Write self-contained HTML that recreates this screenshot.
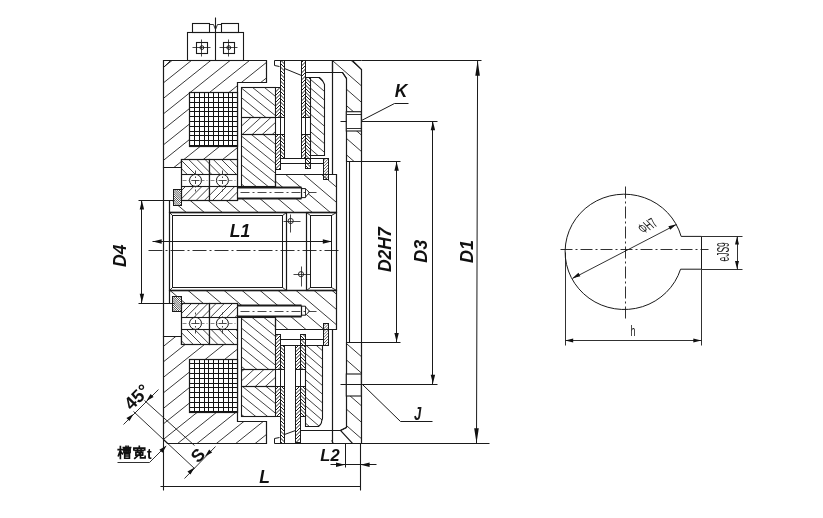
<!DOCTYPE html>
<html><head><meta charset="utf-8"><style>html,body{margin:0;padding:0;background:#fff;width:823px;height:518px;overflow:hidden}svg{display:block;will-change:transform}</style></head>
<body><svg width="823" height="518" viewBox="0 0 823 518"><defs><clipPath id="c1"><polygon points="163.5,60.4 266.8,60.4 266.8,82.4 237.7,82.4 237.7,159.5 181.4,159.5 181.4,167.3 163.5,167.3"/></clipPath><clipPath id="c2"><polygon points="241.4,87.8 275.5,87.8 275.5,117.2 241.4,117.2"/></clipPath><clipPath id="c3"><polygon points="241.4,117.2 275.5,117.2 275.5,134 241.4,134"/></clipPath><clipPath id="c4"><polygon points="241.4,134 275.5,134 275.5,186.5 241.4,186.5"/></clipPath><clipPath id="c5"><polygon points="275.5,87.8 280,87.8 280,117.2 275.5,117.2"/></clipPath><clipPath id="c6"><polygon points="275.5,134 280,134 280,169.7 275.5,169.7"/></clipPath><clipPath id="c7"><polygon points="280,60.4 284.6,60.4 284.6,117.2 280,117.2"/></clipPath><clipPath id="c8"><polygon points="280,134 284.6,134 284.6,158.8 280,158.8"/></clipPath><clipPath id="c9"><polygon points="301.3,60.4 305.9,60.4 305.9,117.2 301.3,117.2"/></clipPath><clipPath id="c10"><polygon points="301.3,134 305.9,134 305.9,158.8 301.3,158.8"/></clipPath><clipPath id="c11"><polygon points="305.9,77.4 310.6,77.4 310.6,117.2 305.9,117.2"/></clipPath><clipPath id="c12"><polygon points="305.9,134 310.6,134 310.6,168.3 305.9,168.3"/></clipPath><clipPath id="c13"><polygon points="310.6,77.4 318.5,77.4 319.67,77.63 320.8,78.31 321.83,79.42 322.74,80.91 323.49,82.73 324.04,84.81 324.38,87.06 324.5,89.4 324.5,155.9 310.6,155.9"/></clipPath><clipPath id="c14"><polygon points="323.6,158.8 328.7,158.8 328.7,179.9 323.6,179.9"/></clipPath><clipPath id="c15"><polygon points="169.5,212.8 169.5,200.3 237.3,200.3 237.3,186.5 275.8,186.5 275.8,174.8 336.2,174.8 336.2,212.8"/></clipPath><clipPath id="c16"><polygon points="173.2,189.5 181.4,189.5 181.4,205.4 173.2,205.4"/></clipPath><clipPath id="c17"><polygon points="181.4,159.5 209.3,159.5 209.3,174.6 181.4,174.6"/></clipPath><clipPath id="c18"><polygon points="181.4,186.4 209.3,186.4 209.3,200.3 181.4,200.3"/></clipPath><clipPath id="c19"><polygon points="209.3,159.5 237.3,159.5 237.3,174.6 209.3,174.6"/></clipPath><clipPath id="c20"><polygon points="209.3,186.4 237.3,186.4 237.3,200.3 209.3,200.3"/></clipPath><clipPath id="c21"><polygon points="332.4,60.5 352.4,60.5 361.3,69 361.3,161.5 346.3,161.5 346.3,78.3 342.8,72.5 332.4,72.5"/></clipPath><clipPath id="c22"><polygon points="163.5,439.9 167.6,443.4 266.8,443.4 266.8,421.4 237.7,421.4 237.7,344.3 181.4,344.3 181.4,336.5 163.5,336.5"/></clipPath><clipPath id="c23"><polygon points="241.4,386.6 275.5,386.6 275.5,416 241.4,416"/></clipPath><clipPath id="c24"><polygon points="241.4,369.8 275.5,369.8 275.5,386.6 241.4,386.6"/></clipPath><clipPath id="c25"><polygon points="241.4,317.3 275.5,317.3 275.5,369.8 241.4,369.8"/></clipPath><clipPath id="c26"><polygon points="275.5,416 280,416 280,386.6 275.5,386.6"/></clipPath><clipPath id="c27"><polygon points="275.5,369.8 280,369.8 280,334.1 275.5,334.1"/></clipPath><clipPath id="c28"><polygon points="280,443.4 284.6,443.4 284.6,386.6 280,386.6"/></clipPath><clipPath id="c29"><polygon points="280,369.8 284.6,369.8 284.6,345 280,345"/></clipPath><clipPath id="c30"><polygon points="295.9,442.6 300.5,442.6 300.5,386.6 295.9,386.6"/></clipPath><clipPath id="c31"><polygon points="295.9,369.8 300.5,369.8 300.5,345 295.9,345"/></clipPath><clipPath id="c32"><polygon points="300.5,416.3 305.5,416.3 305.5,386.6 300.5,386.6"/></clipPath><clipPath id="c33"><polygon points="300.5,369.8 305.5,369.8 305.5,334.6 300.5,334.6"/></clipPath><clipPath id="c34"><polygon points="305.5,426.4 316.9,426.4 318.07,426.17 319.2,425.49 320.23,424.38 321.14,422.89 321.89,421.07 322.44,418.99 322.78,416.74 322.9,414.4 322.9,345 305.5,345"/></clipPath><clipPath id="c35"><polygon points="323.6,323.9 328.7,323.9 328.7,345 323.6,345"/></clipPath><clipPath id="c36"><polygon points="169.5,290 169.5,303.5 237.3,303.5 237.3,317.3 275.8,317.3 275.8,329 336.2,329 336.2,290"/></clipPath><clipPath id="c37"><polygon points="172.8,296.5 181.4,296.5 181.4,311.4 172.8,311.4"/></clipPath><clipPath id="c38"><polygon points="181.4,344.3 209.3,344.3 209.3,329.2 181.4,329.2"/></clipPath><clipPath id="c39"><polygon points="181.4,317.4 209.3,317.4 209.3,303.5 181.4,303.5"/></clipPath><clipPath id="c40"><polygon points="209.3,344.3 237.3,344.3 237.3,329.2 209.3,329.2"/></clipPath><clipPath id="c41"><polygon points="209.3,317.4 237.3,317.4 237.3,303.5 209.3,303.5"/></clipPath><clipPath id="c42"><polygon points="352.3,443.4 361.3,443.4 361.3,342.3 346.3,342.3 346.3,427 340.7,430.9"/></clipPath></defs><rect width="823" height="518" fill="#fff"/><path d="M161.5 53.4L268.8 -32.44 M161.5 68.9L268.8 -16.94 M161.5 84.4L268.8 -1.44 M161.5 99.9L268.8 14.06 M161.5 115.4L268.8 29.56 M161.5 130.9L268.8 45.06 M161.5 146.4L268.8 60.56 M161.5 161.9L268.8 76.06 M161.5 177.4L268.8 91.56 M161.5 192.9L268.8 107.06 M161.5 208.4L268.8 122.56 M161.5 223.9L268.8 138.06 M161.5 239.4L268.8 153.56 M161.5 254.9L268.8 169.06" stroke="#222" stroke-width="0.9" fill="none" clip-path="url(#c1)"/><polygon points="163.5,60.5 266.5,60.5 266.5,82.5 237.5,82.5 237.5,159.5 181.5,159.5 181.5,167.5 163.5,167.5" fill="none" stroke="#1a1a1a" stroke-width="1.2" stroke-linejoin="miter"/><line x1="163.5" y1="67.5" x2="170.5" y2="60.5" stroke="#1a1a1a" stroke-width="0.9" /><rect x="189.7" y="92.7" width="48" height="53.8" fill="#fff"/><path d="M189.5 92.7V146.5M194.5 92.7V146.5M199.5 92.7V146.5M204.5 92.7V146.5M208.5 92.7V146.5M213.5 92.7V146.5M218.5 92.7V146.5M223.5 92.7V146.5M228.5 92.7V146.5M232.5 92.7V146.5M237.5 92.7V146.5M189.7 92.5H237.7M189.7 97.5H237.7M189.7 102.5H237.7M189.7 107.5H237.7M189.7 111.5H237.7M189.7 116.5H237.7M189.7 121.5H237.7M189.7 126.5H237.7M189.7 131.5H237.7M189.7 135.5H237.7M189.7 140.5H237.7M189.7 145.5H237.7" stroke="#111" stroke-width="1.0" fill="none"/><rect x="189.5" y="92.5" width="48" height="54" fill="none" stroke="#1a1a1a" stroke-width="1.2"/><path d="M239.4 57.61L277.5 88.47 M239.4 67.21L277.5 98.07 M239.4 76.81L277.5 107.67 M239.4 86.41L277.5 117.27 M239.4 96.01L277.5 126.87 M239.4 105.61L277.5 136.47 M239.4 115.21L277.5 146.07 M239.4 124.81L277.5 155.67" stroke="#222" stroke-width="0.85" fill="none" clip-path="url(#c2)"/><rect x="241.5" y="87.5" width="34" height="30" fill="none" stroke="#1a1a1a" stroke-width="1.1"/><path d="M239.4 118.85L277.5 84.17 M239.4 127.95L277.5 93.28 M239.4 137.05L277.5 102.38 M239.4 146.15L277.5 111.48 M239.4 155.25L277.5 120.58 M239.4 164.35L277.5 129.68 M239.4 173.45L277.5 138.78" stroke="#222" stroke-width="0.85" fill="none" clip-path="url(#c3)"/><rect x="241.5" y="117.5" width="34" height="17" fill="none" stroke="#1a1a1a" stroke-width="1.1"/><path d="M239.4 96.01L277.5 126.88 M239.4 105.61L277.5 136.47 M239.4 115.21L277.5 146.07 M239.4 124.81L277.5 155.67 M239.4 134.41L277.5 165.27 M239.4 144.01L277.5 174.88 M239.4 153.61L277.5 184.47 M239.4 163.21L277.5 194.07 M239.4 172.81L277.5 203.67 M239.4 182.41L277.5 213.27 M239.4 192.01L277.5 222.88" stroke="#222" stroke-width="0.85" fill="none" clip-path="url(#c4)"/><rect x="241.5" y="134.5" width="34" height="52" fill="none" stroke="#1a1a1a" stroke-width="1.1"/><line x1="237.5" y1="159.5" x2="237.5" y2="186.5" stroke="#1a1a1a" stroke-width="1.1" /><path d="M273.5 87L282 78.5 M273.5 90.5L282 82 M273.5 94L282 85.5 M273.5 97.5L282 89 M273.5 101L282 92.5 M273.5 104.5L282 96 M273.5 108L282 99.5 M273.5 111.5L282 103 M273.5 115L282 106.5 M273.5 118.5L282 110 M273.5 122L282 113.5 M273.5 125.5L282 117" stroke="#222" stroke-width="1.0" fill="none" clip-path="url(#c5)"/><path d="M273.5 136L282 127.5 M273.5 139.5L282 131 M273.5 143L282 134.5 M273.5 146.5L282 138 M273.5 150L282 141.5 M273.5 153.5L282 145 M273.5 157L282 148.5 M273.5 160.5L282 152 M273.5 164L282 155.5 M273.5 167.5L282 159 M273.5 171L282 162.5 M273.5 174.5L282 166 M273.5 178L282 169.5" stroke="#222" stroke-width="1.0" fill="none" clip-path="url(#c6)"/><rect x="275.5" y="87.5" width="5" height="82" fill="none" stroke="#1a1a1a" stroke-width="1.0"/><path d="M278 50.5L286.6 59.1 M278 54L286.6 62.6 M278 57.5L286.6 66.1 M278 61L286.6 69.6 M278 64.5L286.6 73.1 M278 68L286.6 76.6 M278 71.5L286.6 80.1 M278 75L286.6 83.6 M278 78.5L286.6 87.1 M278 82L286.6 90.6 M278 85.5L286.6 94.1 M278 89L286.6 97.6 M278 92.5L286.6 101.1 M278 96L286.6 104.6 M278 99.5L286.6 108.1 M278 103L286.6 111.6 M278 106.5L286.6 115.1 M278 110L286.6 118.6 M278 113.5L286.6 122.1 M278 117L286.6 125.6" stroke="#222" stroke-width="1.0" fill="none" clip-path="url(#c7)"/><path d="M278 124L286.6 132.6 M278 127.5L286.6 136.1 M278 131L286.6 139.6 M278 134.5L286.6 143.1 M278 138L286.6 146.6 M278 141.5L286.6 150.1 M278 145L286.6 153.6 M278 148.5L286.6 157.1 M278 152L286.6 160.6 M278 155.5L286.6 164.1 M278 159L286.6 167.6" stroke="#222" stroke-width="1.0" fill="none" clip-path="url(#c8)"/><rect x="280.5" y="60.5" width="4" height="98" fill="none" stroke="#1a1a1a" stroke-width="1.0"/><line x1="275.5" y1="117.5" x2="284.5" y2="117.5" stroke="#1a1a1a" stroke-width="1.0" /><line x1="275.5" y1="134.5" x2="284.5" y2="134.5" stroke="#1a1a1a" stroke-width="1.0" /><polyline points="274.5,60.5 274.5,65.5 279.5,66.5" fill="none" stroke="#1a1a1a" stroke-width="1.0" stroke-linejoin="miter"/><path d="M299.3 61.2L307.9 52.6 M299.3 64.7L307.9 56.1 M299.3 68.2L307.9 59.6 M299.3 71.7L307.9 63.1 M299.3 75.2L307.9 66.6 M299.3 78.7L307.9 70.1 M299.3 82.2L307.9 73.6 M299.3 85.7L307.9 77.1 M299.3 89.2L307.9 80.6 M299.3 92.7L307.9 84.1 M299.3 96.2L307.9 87.6 M299.3 99.7L307.9 91.1 M299.3 103.2L307.9 94.6 M299.3 106.7L307.9 98.1 M299.3 110.2L307.9 101.6 M299.3 113.7L307.9 105.1 M299.3 117.2L307.9 108.6 M299.3 120.7L307.9 112.1 M299.3 124.2L307.9 115.6" stroke="#222" stroke-width="1.0" fill="none" clip-path="url(#c9)"/><path d="M299.3 134.7L307.9 126.1 M299.3 138.2L307.9 129.6 M299.3 141.7L307.9 133.1 M299.3 145.2L307.9 136.6 M299.3 148.7L307.9 140.1 M299.3 152.2L307.9 143.6 M299.3 155.7L307.9 147.1 M299.3 159.2L307.9 150.6 M299.3 162.7L307.9 154.1 M299.3 166.2L307.9 157.6" stroke="#222" stroke-width="1.0" fill="none" clip-path="url(#c10)"/><rect x="301.5" y="60.5" width="4" height="98" fill="none" stroke="#1a1a1a" stroke-width="1.0"/><line x1="301.5" y1="117.5" x2="305.5" y2="117.5" stroke="#1a1a1a" stroke-width="1.0" /><line x1="301.5" y1="134.5" x2="305.5" y2="134.5" stroke="#1a1a1a" stroke-width="1.0" /><path d="M303.9 69.4L312.6 78.1 M303.9 72.9L312.6 81.6 M303.9 76.4L312.6 85.1 M303.9 79.9L312.6 88.6 M303.9 83.4L312.6 92.1 M303.9 86.9L312.6 95.6 M303.9 90.4L312.6 99.1 M303.9 93.9L312.6 102.6 M303.9 97.4L312.6 106.1 M303.9 100.9L312.6 109.6 M303.9 104.4L312.6 113.1 M303.9 107.9L312.6 116.6 M303.9 111.4L312.6 120.1 M303.9 114.9L312.6 123.6 M303.9 118.4L312.6 127.1" stroke="#222" stroke-width="1.0" fill="none" clip-path="url(#c11)"/><path d="M303.9 125.4L312.6 134.1 M303.9 128.9L312.6 137.6 M303.9 132.4L312.6 141.1 M303.9 135.9L312.6 144.6 M303.9 139.4L312.6 148.1 M303.9 142.9L312.6 151.6 M303.9 146.4L312.6 155.1 M303.9 149.9L312.6 158.6 M303.9 153.4L312.6 162.1 M303.9 156.9L312.6 165.6 M303.9 160.4L312.6 169.1 M303.9 163.9L312.6 172.6 M303.9 167.4L312.6 176.1" stroke="#222" stroke-width="1.0" fill="none" clip-path="url(#c12)"/><rect x="305.5" y="77.5" width="5" height="91" fill="none" stroke="#1a1a1a" stroke-width="1.0"/><line x1="305.5" y1="117.5" x2="310.5" y2="117.5" stroke="#1a1a1a" stroke-width="1.0" /><line x1="305.5" y1="134.5" x2="310.5" y2="134.5" stroke="#1a1a1a" stroke-width="1.0" /><path d="M308.6 60.4L326.5 75.79 M308.6 69.1L326.5 84.49 M308.6 77.8L326.5 93.19 M308.6 86.5L326.5 101.89 M308.6 95.2L326.5 110.59 M308.6 103.9L326.5 119.29 M308.6 112.6L326.5 127.99 M308.6 121.3L326.5 136.69 M308.6 130L326.5 145.39 M308.6 138.7L326.5 154.09 M308.6 147.4L326.5 162.79 M308.6 156.1L326.5 171.49" stroke="#222" stroke-width="0.85" fill="none" clip-path="url(#c13)"/><polygon points="310.5,77.5 318.5,77.5 319.5,77.5 320.5,78.5 321.5,79.5 322.5,80.5 323.5,82.5 324.5,84.5 324.5,87.5 324.5,89.5 324.5,155.5 310.5,155.5" fill="none" stroke="#1a1a1a" stroke-width="1.1" stroke-linejoin="miter"/><line x1="284.5" y1="68.5" x2="301.5" y2="75.5" stroke="#1a1a1a" stroke-width="1.0" /><polyline points="305.5,72.5 342.5,72.5 346.5,78.5" fill="none" stroke="#1a1a1a" stroke-width="1.1" stroke-linejoin="miter"/><line x1="274.5" y1="60.5" x2="361.5" y2="60.5" stroke="#1a1a1a" stroke-width="1.2" /><line x1="284.5" y1="158.5" x2="328.5" y2="158.5" stroke="#1a1a1a" stroke-width="1.0" /><line x1="280.5" y1="163.5" x2="323.5" y2="163.5" stroke="#1a1a1a" stroke-width="1.0" /><path d="M321.6 159.8L330.7 150.7 M321.6 162.7L330.7 153.6 M321.6 165.6L330.7 156.5 M321.6 168.5L330.7 159.4 M321.6 171.4L330.7 162.3 M321.6 174.3L330.7 165.2 M321.6 177.2L330.7 168.1 M321.6 180.1L330.7 171 M321.6 183L330.7 173.9 M321.6 185.9L330.7 176.8 M321.6 188.8L330.7 179.7" stroke="#222" stroke-width="0.7" fill="none" clip-path="url(#c14)"/><rect x="323.5" y="158.5" width="5" height="21" fill="none" stroke="#1a1a1a" stroke-width="1.0"/><line x1="332.5" y1="60.5" x2="332.5" y2="174.5" stroke="#1a1a1a" stroke-width="1.2" /><path d="M167.5 28.17L338.2 173.27 M167.5 43.47L338.2 188.57 M167.5 58.77L338.2 203.87 M167.5 74.07L338.2 219.17 M167.5 89.37L338.2 234.47 M167.5 104.67L338.2 249.77 M167.5 119.97L338.2 265.07 M167.5 135.27L338.2 280.37 M167.5 150.57L338.2 295.67 M167.5 165.87L338.2 310.97 M167.5 181.17L338.2 326.27 M167.5 196.47L338.2 341.57 M167.5 211.77L338.2 356.87" stroke="#222" stroke-width="0.9" fill="none" clip-path="url(#c15)"/><polygon points="169.5,212.5 169.5,200.5 237.5,200.5 237.5,186.5 275.5,186.5 275.5,174.5 336.5,174.5 336.5,212.5" fill="none" stroke="#1a1a1a" stroke-width="1.2" stroke-linejoin="miter"/><rect x="237.3" y="187.5" width="64.2" height="11" fill="#fff"/><polygon points="301.5,188.6 305.4,188.6 306.4,189.6 309.5,192.6 306.4,195.9 305.4,197.6 301.5,197.6" fill="#fff" stroke="#1a1a1a" stroke-width="1"/><line x1="305.5" y1="188.5" x2="305.5" y2="197.5" stroke="#1a1a1a" stroke-width="0.9" /><line x1="237.5" y1="187.5" x2="301.5" y2="187.5" stroke="#1a1a1a" stroke-width="2.0" /><line x1="237.5" y1="198.5" x2="301.5" y2="198.5" stroke="#1a1a1a" stroke-width="2.0" /><line x1="301.5" y1="187.5" x2="301.5" y2="198.5" stroke="#1a1a1a" stroke-width="1.2" /><line x1="240.5" y1="192.5" x2="316.5" y2="192.5" stroke="#1a1a1a" stroke-width="0.8" stroke-dasharray="9 3 2 3"/><rect x="173.2" y="189.5" width="8.2" height="15.9" fill="#fff"/><path d="M171.2 177.8L183.4 190 M171.2 180L183.4 192.2 M171.2 182.2L183.4 194.4 M171.2 184.4L183.4 196.6 M171.2 186.6L183.4 198.8 M171.2 188.8L183.4 201 M171.2 191L183.4 203.2 M171.2 193.2L183.4 205.4 M171.2 195.4L183.4 207.6 M171.2 197.6L183.4 209.8 M171.2 199.8L183.4 212 M171.2 202L183.4 214.2 M171.2 204.2L183.4 216.4" stroke="#222" stroke-width="0.8" fill="none" clip-path="url(#c16)"/><rect x="173.5" y="189.5" width="8" height="16" fill="none" stroke="#1a1a1a" stroke-width="1.0"/><rect x="181.4" y="159.5" width="27.9" height="40.8" fill="#fff"/><path d="M179.4 125.6L211.3 157.5 M179.4 133.8L211.3 165.7 M179.4 142L211.3 173.9 M179.4 150.2L211.3 182.1 M179.4 158.4L211.3 190.3 M179.4 166.6L211.3 198.5 M179.4 174.8L211.3 206.7" stroke="#222" stroke-width="0.85" fill="none" clip-path="url(#c17)"/><path d="M179.4 184.4L211.3 152.5 M179.4 192.6L211.3 160.7 M179.4 200.8L211.3 168.9 M179.4 209L211.3 177.1 M179.4 217.2L211.3 185.3 M179.4 225.4L211.3 193.5 M179.4 233.6L211.3 201.7" stroke="#222" stroke-width="0.85" fill="none" clip-path="url(#c18)"/><rect x="181.5" y="159.5" width="28" height="41" fill="none" stroke="#1a1a1a" stroke-width="1.2"/><line x1="181.5" y1="174.5" x2="209.5" y2="174.5" stroke="#1a1a1a" stroke-width="1.1" /><line x1="181.5" y1="186.5" x2="209.5" y2="186.5" stroke="#1a1a1a" stroke-width="1.1" /><circle cx="195.5" cy="180.4" r="6" fill="#fff" stroke="#1a1a1a" stroke-width="1"/><line x1="195.5" y1="170.5" x2="195.5" y2="191.5" stroke="#1a1a1a" stroke-width="0.8" stroke-dasharray="4 2 1.5 2"/><line x1="191.5" y1="180.5" x2="199.5" y2="180.5" stroke="#1a1a1a" stroke-width="0.8" /><line x1="182.5" y1="180.5" x2="208.5" y2="180.5" stroke="#555" stroke-width="0.7" stroke-dasharray="4 2 1 2"/><rect x="209.3" y="159.5" width="28" height="40.8" fill="#fff"/><path d="M207.3 128.9L239.3 160.9 M207.3 137.1L239.3 169.1 M207.3 145.3L239.3 177.3 M207.3 153.5L239.3 185.5 M207.3 161.7L239.3 193.7 M207.3 169.9L239.3 201.9 M207.3 178.1L239.3 210.1" stroke="#222" stroke-width="0.85" fill="none" clip-path="url(#c19)"/><path d="M207.3 181.1L239.3 149.1 M207.3 189.3L239.3 157.3 M207.3 197.5L239.3 165.5 M207.3 205.7L239.3 173.7 M207.3 213.9L239.3 181.9 M207.3 222.1L239.3 190.1 M207.3 230.3L239.3 198.3 M207.3 238.5L239.3 206.5" stroke="#222" stroke-width="0.85" fill="none" clip-path="url(#c20)"/><rect x="209.5" y="159.5" width="28" height="41" fill="none" stroke="#1a1a1a" stroke-width="1.2"/><line x1="209.5" y1="174.5" x2="237.5" y2="174.5" stroke="#1a1a1a" stroke-width="1.1" /><line x1="209.5" y1="186.5" x2="237.5" y2="186.5" stroke="#1a1a1a" stroke-width="1.1" /><circle cx="222.4" cy="180.4" r="6" fill="#fff" stroke="#1a1a1a" stroke-width="1"/><line x1="222.5" y1="170.5" x2="222.5" y2="191.5" stroke="#1a1a1a" stroke-width="0.8" stroke-dasharray="4 2 1.5 2"/><line x1="218.5" y1="180.5" x2="226.5" y2="180.5" stroke="#1a1a1a" stroke-width="0.8" /><line x1="210.5" y1="180.5" x2="236.5" y2="180.5" stroke="#555" stroke-width="0.7" stroke-dasharray="4 2 1 2"/><line x1="169.5" y1="212.5" x2="336.5" y2="212.5" stroke="#1a1a1a" stroke-width="1.6" /><path d="M330.4 25.95L363.3 54.74 M330.4 42.35L363.3 71.14 M330.4 58.75L363.3 87.54 M330.4 75.15L363.3 103.94 M330.4 91.55L363.3 120.34 M330.4 107.95L363.3 136.74 M330.4 124.35L363.3 153.14 M330.4 140.75L363.3 169.54 M330.4 157.15L363.3 185.94 M330.4 173.55L363.3 202.34" stroke="#222" stroke-width="0.9" fill="none" clip-path="url(#c21)"/><polygon points="332.5,60.5 352.5,60.5 361.5,69.5 361.5,161.5 346.5,161.5 346.5,78.5 342.5,72.5 332.5,72.5" fill="none" stroke="#1a1a1a" stroke-width="1.2" stroke-linejoin="miter"/><rect x="346.3" y="111.7" width="15" height="19.3" fill="#fff" stroke="#1a1a1a" stroke-width="1.1"/><line x1="346.5" y1="114.5" x2="361.5" y2="114.5" stroke="#1a1a1a" stroke-width="0.9" /><line x1="346.5" y1="128.5" x2="361.5" y2="128.5" stroke="#1a1a1a" stroke-width="0.9" /><line x1="361.5" y1="60.5" x2="481.5" y2="60.5" stroke="#1a1a1a" stroke-width="1.0" /><path d="M161.5 332.4L268.8 246.56 M161.5 347.9L268.8 262.06 M161.5 363.4L268.8 277.56 M161.5 378.9L268.8 293.06 M161.5 394.4L268.8 308.56 M161.5 409.9L268.8 324.06 M161.5 425.4L268.8 339.56 M161.5 440.9L268.8 355.06 M161.5 456.4L268.8 370.56 M161.5 471.9L268.8 386.06 M161.5 487.4L268.8 401.56 M161.5 502.9L268.8 417.06 M161.5 518.4L268.8 432.56 M161.5 533.9L268.8 448.06" stroke="#222" stroke-width="0.9" fill="none" clip-path="url(#c22)"/><polygon points="163.5,439.5 167.5,443.5 266.5,443.5 266.5,421.5 237.5,421.5 237.5,344.5 181.5,344.5 181.5,336.5 163.5,336.5" fill="none" stroke="#1a1a1a" stroke-width="1.2" stroke-linejoin="miter"/><rect x="189.7" y="359" width="48" height="53.4" fill="#fff"/><path d="M189.5 359V412.4M194.5 359V412.4M199.5 359V412.4M204.5 359V412.4M208.5 359V412.4M213.5 359V412.4M218.5 359V412.4M223.5 359V412.4M228.5 359V412.4M232.5 359V412.4M237.5 359V412.4M189.7 359.5H237.7M189.7 363.5H237.7M189.7 368.5H237.7M189.7 373.5H237.7M189.7 378.5H237.7M189.7 383.5H237.7M189.7 387.5H237.7M189.7 392.5H237.7M189.7 397.5H237.7M189.7 402.5H237.7M189.7 407.5H237.7M189.7 411.5H237.7" stroke="#111" stroke-width="1.0" fill="none"/><rect x="189.5" y="359.5" width="48" height="53" fill="none" stroke="#1a1a1a" stroke-width="1.2"/><path d="M239.4 355.21L277.5 386.08 M239.4 364.81L277.5 395.68 M239.4 374.41L277.5 405.27 M239.4 384.01L277.5 414.88 M239.4 393.61L277.5 424.48 M239.4 403.21L277.5 434.07 M239.4 412.81L277.5 443.67 M239.4 422.41L277.5 453.27" stroke="#222" stroke-width="0.85" fill="none" clip-path="url(#c23)"/><rect x="241.5" y="386.5" width="34" height="30" fill="none" stroke="#1a1a1a" stroke-width="1.1"/><path d="M239.4 364.55L277.5 329.88 M239.4 373.65L277.5 338.98 M239.4 382.75L277.5 348.08 M239.4 391.85L277.5 357.18 M239.4 400.95L277.5 366.28 M239.4 410.05L277.5 375.38 M239.4 419.15L277.5 384.48 M239.4 428.25L277.5 393.58" stroke="#222" stroke-width="0.85" fill="none" clip-path="url(#c24)"/><rect x="241.5" y="369.5" width="34" height="17" fill="none" stroke="#1a1a1a" stroke-width="1.1"/><path d="M239.4 288.01L277.5 318.88 M239.4 297.61L277.5 328.48 M239.4 307.21L277.5 338.07 M239.4 316.81L277.5 347.67 M239.4 326.41L277.5 357.27 M239.4 336.01L277.5 366.88 M239.4 345.61L277.5 376.47 M239.4 355.21L277.5 386.07 M239.4 364.81L277.5 395.67 M239.4 374.41L277.5 405.27" stroke="#222" stroke-width="0.85" fill="none" clip-path="url(#c25)"/><rect x="241.5" y="317.5" width="34" height="52" fill="none" stroke="#1a1a1a" stroke-width="1.1"/><line x1="237.5" y1="344.5" x2="237.5" y2="317.5" stroke="#1a1a1a" stroke-width="1.1" /><path d="M273.5 388L282 379.5 M273.5 391.5L282 383 M273.5 395L282 386.5 M273.5 398.5L282 390 M273.5 402L282 393.5 M273.5 405.5L282 397 M273.5 409L282 400.5 M273.5 412.5L282 404 M273.5 416L282 407.5 M273.5 419.5L282 411 M273.5 423L282 414.5" stroke="#222" stroke-width="1.0" fill="none" clip-path="url(#c26)"/><path d="M273.5 335.5L282 327 M273.5 339L282 330.5 M273.5 342.5L282 334 M273.5 346L282 337.5 M273.5 349.5L282 341 M273.5 353L282 344.5 M273.5 356.5L282 348 M273.5 360L282 351.5 M273.5 363.5L282 355 M273.5 367L282 358.5 M273.5 370.5L282 362 M273.5 374L282 365.5 M273.5 377.5L282 369" stroke="#222" stroke-width="1.0" fill="none" clip-path="url(#c27)"/><rect x="275.5" y="334.5" width="5" height="82" fill="none" stroke="#1a1a1a" stroke-width="1.0"/><path d="M278 379.5L286.6 388.1 M278 383L286.6 391.6 M278 386.5L286.6 395.1 M278 390L286.6 398.6 M278 393.5L286.6 402.1 M278 397L286.6 405.6 M278 400.5L286.6 409.1 M278 404L286.6 412.6 M278 407.5L286.6 416.1 M278 411L286.6 419.6 M278 414.5L286.6 423.1 M278 418L286.6 426.6 M278 421.5L286.6 430.1 M278 425L286.6 433.6 M278 428.5L286.6 437.1 M278 432L286.6 440.6 M278 435.5L286.6 444.1 M278 439L286.6 447.6 M278 442.5L286.6 451.1" stroke="#222" stroke-width="1.0" fill="none" clip-path="url(#c28)"/><path d="M278 337.5L286.6 346.1 M278 341L286.6 349.6 M278 344.5L286.6 353.1 M278 348L286.6 356.6 M278 351.5L286.6 360.1 M278 355L286.6 363.6 M278 358.5L286.6 367.1 M278 362L286.6 370.6 M278 365.5L286.6 374.1 M278 369L286.6 377.6" stroke="#222" stroke-width="1.0" fill="none" clip-path="url(#c29)"/><rect x="280.5" y="345.5" width="4" height="98" fill="none" stroke="#1a1a1a" stroke-width="1.0"/><line x1="275.5" y1="386.5" x2="284.5" y2="386.5" stroke="#1a1a1a" stroke-width="1.0" /><line x1="275.5" y1="369.5" x2="284.5" y2="369.5" stroke="#1a1a1a" stroke-width="1.0" /><polyline points="274.5,443.5 274.5,438.5 279.5,437.5" fill="none" stroke="#1a1a1a" stroke-width="1.0" stroke-linejoin="miter"/><path d="M293.9 388.6L302.5 380 M293.9 392.1L302.5 383.5 M293.9 395.6L302.5 387 M293.9 399.1L302.5 390.5 M293.9 402.6L302.5 394 M293.9 406.1L302.5 397.5 M293.9 409.6L302.5 401 M293.9 413.1L302.5 404.5 M293.9 416.6L302.5 408 M293.9 420.1L302.5 411.5 M293.9 423.6L302.5 415 M293.9 427.1L302.5 418.5 M293.9 430.6L302.5 422 M293.9 434.1L302.5 425.5 M293.9 437.6L302.5 429 M293.9 441.1L302.5 432.5 M293.9 444.6L302.5 436 M293.9 448.1L302.5 439.5 M293.9 451.6L302.5 443" stroke="#222" stroke-width="1.0" fill="none" clip-path="url(#c30)"/><path d="M293.9 346.6L302.5 338 M293.9 350.1L302.5 341.5 M293.9 353.6L302.5 345 M293.9 357.1L302.5 348.5 M293.9 360.6L302.5 352 M293.9 364.1L302.5 355.5 M293.9 367.6L302.5 359 M293.9 371.1L302.5 362.5 M293.9 374.6L302.5 366 M293.9 378.1L302.5 369.5" stroke="#222" stroke-width="1.0" fill="none" clip-path="url(#c31)"/><rect x="295.5" y="345.5" width="5" height="97" fill="none" stroke="#1a1a1a" stroke-width="1.0"/><line x1="295.5" y1="386.5" x2="300.5" y2="386.5" stroke="#1a1a1a" stroke-width="1.0" /><line x1="295.5" y1="369.5" x2="300.5" y2="369.5" stroke="#1a1a1a" stroke-width="1.0" /><path d="M298.5 379L307.5 388 M298.5 382.5L307.5 391.5 M298.5 386L307.5 395 M298.5 389.5L307.5 398.5 M298.5 393L307.5 402 M298.5 396.5L307.5 405.5 M298.5 400L307.5 409 M298.5 403.5L307.5 412.5 M298.5 407L307.5 416 M298.5 410.5L307.5 419.5 M298.5 414L307.5 423 M298.5 417.5L307.5 426.5" stroke="#222" stroke-width="1.0" fill="none" clip-path="url(#c32)"/><path d="M298.5 326.5L307.5 335.5 M298.5 330L307.5 339 M298.5 333.5L307.5 342.5 M298.5 337L307.5 346 M298.5 340.5L307.5 349.5 M298.5 344L307.5 353 M298.5 347.5L307.5 356.5 M298.5 351L307.5 360 M298.5 354.5L307.5 363.5 M298.5 358L307.5 367 M298.5 361.5L307.5 370.5 M298.5 365L307.5 374 M298.5 368.5L307.5 377.5" stroke="#222" stroke-width="1.0" fill="none" clip-path="url(#c33)"/><rect x="300.5" y="334.5" width="5" height="82" fill="none" stroke="#1a1a1a" stroke-width="1.0"/><line x1="300.5" y1="386.5" x2="305.5" y2="386.5" stroke="#1a1a1a" stroke-width="1.0" /><line x1="300.5" y1="369.5" x2="305.5" y2="369.5" stroke="#1a1a1a" stroke-width="1.0" /><path d="M303.5 325.71L324.9 344.11 M303.5 334.41L324.9 352.81 M303.5 343.11L324.9 361.51 M303.5 351.81L324.9 370.21 M303.5 360.51L324.9 378.91 M303.5 369.21L324.9 387.61 M303.5 377.91L324.9 396.31 M303.5 386.61L324.9 405.01 M303.5 395.31L324.9 413.71 M303.5 404.01L324.9 422.41 M303.5 412.71L324.9 431.11 M303.5 421.41L324.9 439.81 M303.5 430.11L324.9 448.51" stroke="#222" stroke-width="0.85" fill="none" clip-path="url(#c34)"/><polygon points="305.5,426.5 316.5,426.5 318.5,426.5 319.5,425.5 320.5,424.5 321.5,422.5 321.5,421.5 322.5,418.5 322.5,416.5 322.5,414.5 322.5,345.5 305.5,345.5" fill="none" stroke="#1a1a1a" stroke-width="1.1" stroke-linejoin="miter"/><line x1="284.5" y1="434.5" x2="295.5" y2="430.5" stroke="#1a1a1a" stroke-width="1.0" /><polyline points="300.5,430.5 340.5,430.5 346.5,427.5" fill="none" stroke="#1a1a1a" stroke-width="1.1" stroke-linejoin="miter"/><line x1="331.5" y1="440.5" x2="333.5" y2="443.5" stroke="#1a1a1a" stroke-width="0.9" /><line x1="274.5" y1="443.5" x2="361.5" y2="443.5" stroke="#1a1a1a" stroke-width="1.2" /><line x1="284.5" y1="345.5" x2="328.5" y2="345.5" stroke="#1a1a1a" stroke-width="1.0" /><line x1="280.5" y1="339.5" x2="323.5" y2="339.5" stroke="#1a1a1a" stroke-width="1.0" /><path d="M321.6 325.1L330.7 316 M321.6 328L330.7 318.9 M321.6 330.9L330.7 321.8 M321.6 333.8L330.7 324.7 M321.6 336.7L330.7 327.6 M321.6 339.6L330.7 330.5 M321.6 342.5L330.7 333.4 M321.6 345.4L330.7 336.3 M321.6 348.3L330.7 339.2 M321.6 351.2L330.7 342.1 M321.6 354.1L330.7 345" stroke="#222" stroke-width="0.7" fill="none" clip-path="url(#c35)"/><rect x="323.5" y="323.5" width="5" height="22" fill="none" stroke="#1a1a1a" stroke-width="1.0"/><line x1="332.5" y1="443.5" x2="332.5" y2="329.5" stroke="#1a1a1a" stroke-width="1.2" /><path d="M167.5 135.27L338.2 280.37 M167.5 150.57L338.2 295.67 M167.5 165.88L338.2 310.97 M167.5 181.18L338.2 326.27 M167.5 196.47L338.2 341.57 M167.5 211.77L338.2 356.87 M167.5 227.07L338.2 372.17 M167.5 242.38L338.2 387.47 M167.5 257.67L338.2 402.77 M167.5 272.98L338.2 418.07 M167.5 288.27L338.2 433.37 M167.5 303.58L338.2 448.67 M167.5 318.88L338.2 463.97 M167.5 334.18L338.2 479.27" stroke="#222" stroke-width="0.9" fill="none" clip-path="url(#c36)"/><polygon points="169.5,290.5 169.5,303.5 237.5,303.5 237.5,317.5 275.5,317.5 275.5,329.5 336.5,329.5 336.5,290.5" fill="none" stroke="#1a1a1a" stroke-width="1.2" stroke-linejoin="miter"/><rect x="237.3" y="305.3" width="64.2" height="11" fill="#fff"/><polygon points="301.5,315.2 305.4,315.2 306.4,314.2 309.5,311.2 306.4,307.9 305.4,306.2 301.5,306.2" fill="#fff" stroke="#1a1a1a" stroke-width="1"/><line x1="305.5" y1="315.5" x2="305.5" y2="306.5" stroke="#1a1a1a" stroke-width="0.9" /><line x1="237.5" y1="316.5" x2="301.5" y2="316.5" stroke="#1a1a1a" stroke-width="2.0" /><line x1="237.5" y1="305.5" x2="301.5" y2="305.5" stroke="#1a1a1a" stroke-width="2.0" /><line x1="301.5" y1="316.5" x2="301.5" y2="305.5" stroke="#1a1a1a" stroke-width="1.2" /><line x1="240.5" y1="311.5" x2="316.5" y2="311.5" stroke="#1a1a1a" stroke-width="0.8" stroke-dasharray="9 3 2 3"/><rect x="172.8" y="296.5" width="8.6" height="14.9" fill="#fff"/><path d="M170.8 285.2L183.4 297.8 M170.8 287.4L183.4 300 M170.8 289.6L183.4 302.2 M170.8 291.8L183.4 304.4 M170.8 294L183.4 306.6 M170.8 296.2L183.4 308.8 M170.8 298.4L183.4 311 M170.8 300.6L183.4 313.2 M170.8 302.8L183.4 315.4 M170.8 305L183.4 317.6 M170.8 307.2L183.4 319.8 M170.8 309.4L183.4 322 M170.8 311.6L183.4 324.2" stroke="#222" stroke-width="0.8" fill="none" clip-path="url(#c37)"/><rect x="172.5" y="296.5" width="9" height="15" fill="none" stroke="#1a1a1a" stroke-width="1.0"/><rect x="181.4" y="303.5" width="27.9" height="40.8" fill="#fff"/><path d="M179.4 297.8L211.3 329.7 M179.4 306L211.3 337.9 M179.4 314.2L211.3 346.1 M179.4 322.4L211.3 354.3 M179.4 330.6L211.3 362.5 M179.4 338.8L211.3 370.7 M179.4 347L211.3 378.9" stroke="#222" stroke-width="0.85" fill="none" clip-path="url(#c38)"/><path d="M179.4 299.2L211.3 267.3 M179.4 307.4L211.3 275.5 M179.4 315.6L211.3 283.7 M179.4 323.8L211.3 291.9 M179.4 332L211.3 300.1 M179.4 340.2L211.3 308.3 M179.4 348.4L211.3 316.5" stroke="#222" stroke-width="0.85" fill="none" clip-path="url(#c39)"/><rect x="181.5" y="303.5" width="28" height="41" fill="none" stroke="#1a1a1a" stroke-width="1.2"/><line x1="181.5" y1="329.5" x2="209.5" y2="329.5" stroke="#1a1a1a" stroke-width="1.1" /><line x1="181.5" y1="317.5" x2="209.5" y2="317.5" stroke="#1a1a1a" stroke-width="1.1" /><circle cx="195.5" cy="323.4" r="6" fill="#fff" stroke="#1a1a1a" stroke-width="1"/><line x1="195.5" y1="333.5" x2="195.5" y2="312.5" stroke="#1a1a1a" stroke-width="0.8" stroke-dasharray="4 2 1.5 2"/><line x1="191.5" y1="323.5" x2="199.5" y2="323.5" stroke="#1a1a1a" stroke-width="0.8" /><line x1="182.5" y1="323.5" x2="208.5" y2="323.5" stroke="#555" stroke-width="0.7" stroke-dasharray="4 2 1 2"/><rect x="209.3" y="303.5" width="28" height="40.8" fill="#fff"/><path d="M207.3 292.9L239.3 324.9 M207.3 301.1L239.3 333.1 M207.3 309.3L239.3 341.3 M207.3 317.5L239.3 349.5 M207.3 325.7L239.3 357.7 M207.3 333.9L239.3 365.9 M207.3 342.1L239.3 374.1 M207.3 350.3L239.3 382.3" stroke="#222" stroke-width="0.85" fill="none" clip-path="url(#c40)"/><path d="M207.3 304.1L239.3 272.1 M207.3 312.3L239.3 280.3 M207.3 320.5L239.3 288.5 M207.3 328.7L239.3 296.7 M207.3 336.9L239.3 304.9 M207.3 345.1L239.3 313.1 M207.3 353.3L239.3 321.3" stroke="#222" stroke-width="0.85" fill="none" clip-path="url(#c41)"/><rect x="209.5" y="303.5" width="28" height="41" fill="none" stroke="#1a1a1a" stroke-width="1.2"/><line x1="209.5" y1="329.5" x2="237.5" y2="329.5" stroke="#1a1a1a" stroke-width="1.1" /><line x1="209.5" y1="317.5" x2="237.5" y2="317.5" stroke="#1a1a1a" stroke-width="1.1" /><circle cx="222.4" cy="323.4" r="6" fill="#fff" stroke="#1a1a1a" stroke-width="1"/><line x1="222.5" y1="333.5" x2="222.5" y2="312.5" stroke="#1a1a1a" stroke-width="0.8" stroke-dasharray="4 2 1.5 2"/><line x1="218.5" y1="323.5" x2="226.5" y2="323.5" stroke="#1a1a1a" stroke-width="0.8" /><line x1="210.5" y1="323.5" x2="236.5" y2="323.5" stroke="#555" stroke-width="0.7" stroke-dasharray="4 2 1 2"/><line x1="169.5" y1="290.5" x2="336.5" y2="290.5" stroke="#1a1a1a" stroke-width="1.6" /><path d="M338.7 320.36L363.3 341.89 M338.7 336.76L363.3 358.29 M338.7 353.16L363.3 374.69 M338.7 369.56L363.3 391.09 M338.7 385.96L363.3 407.49 M338.7 402.36L363.3 423.89 M338.7 418.76L363.3 440.29 M338.7 435.16L363.3 456.69 M338.7 451.56L363.3 473.09" stroke="#222" stroke-width="0.9" fill="none" clip-path="url(#c42)"/><polygon points="352.5,443.5 361.5,443.5 361.5,342.5 346.5,342.5 346.5,427.5 340.5,430.5" fill="none" stroke="#1a1a1a" stroke-width="1.2" stroke-linejoin="miter"/><rect x="346.3" y="374" width="15" height="22" fill="#fff" stroke="#1a1a1a" stroke-width="1.1"/><line x1="361.5" y1="443.5" x2="489.5" y2="443.5" stroke="#1a1a1a" stroke-width="1.0" /><line x1="163.5" y1="167.5" x2="163.5" y2="336.5" stroke="#1a1a1a" stroke-width="1.2" /><line x1="163.5" y1="438.5" x2="163.5" y2="490.5" stroke="#1a1a1a" stroke-width="1.1" /><rect x="169.5" y="212.5" width="117" height="78" fill="none" stroke="#1a1a1a" stroke-width="1.2"/><rect x="172.5" y="215.5" width="110" height="72" fill="none" stroke="#1a1a1a" stroke-width="1.0"/><line x1="169.5" y1="212.5" x2="172.5" y2="215.5" stroke="#1a1a1a" stroke-width="0.9"/><line x1="286.5" y1="212.5" x2="282.5" y2="215.5" stroke="#1a1a1a" stroke-width="0.9"/><line x1="169.5" y1="290.5" x2="172.5" y2="287.5" stroke="#1a1a1a" stroke-width="0.9"/><line x1="286.5" y1="290.5" x2="282.5" y2="287.5" stroke="#1a1a1a" stroke-width="0.9"/><rect x="306.5" y="212.5" width="30" height="78" fill="none" stroke="#1a1a1a" stroke-width="1.2"/><rect x="310.5" y="215.5" width="21" height="72" fill="none" stroke="#1a1a1a" stroke-width="1.0"/><line x1="306.5" y1="212.5" x2="310.5" y2="215.5" stroke="#1a1a1a" stroke-width="0.9"/><line x1="336.5" y1="212.5" x2="331.5" y2="215.5" stroke="#1a1a1a" stroke-width="0.9"/><line x1="306.5" y1="290.5" x2="310.5" y2="287.5" stroke="#1a1a1a" stroke-width="0.9"/><line x1="336.5" y1="290.5" x2="331.5" y2="287.5" stroke="#1a1a1a" stroke-width="0.9"/><line x1="346.5" y1="161.5" x2="346.5" y2="342.5" stroke="#1a1a1a" stroke-width="1.1" /><line x1="349.5" y1="161.5" x2="349.5" y2="342.5" stroke="#1a1a1a" stroke-width="1.1" /><line x1="361.5" y1="161.5" x2="361.5" y2="342.5" stroke="#1a1a1a" stroke-width="1.1" /><line x1="332.5" y1="174.5" x2="332.5" y2="329.5" stroke="#1a1a1a" stroke-width="0" /><circle cx="290.7" cy="221" r="2.6" fill="none" stroke="#1a1a1a" stroke-width="0.9"/><line x1="283.5" y1="221.5" x2="300.5" y2="221.5" stroke="#1a1a1a" stroke-width="0.8" /><line x1="290.5" y1="214.5" x2="290.5" y2="232.5" stroke="#1a1a1a" stroke-width="0.8" /><circle cx="301" cy="274.2" r="2.6" fill="none" stroke="#1a1a1a" stroke-width="0.9"/><line x1="293.5" y1="274.5" x2="310.5" y2="274.5" stroke="#1a1a1a" stroke-width="0.8" /><line x1="301.5" y1="266.5" x2="301.5" y2="286.5" stroke="#1a1a1a" stroke-width="0.8" /><line x1="148.5" y1="250.5" x2="338.5" y2="250.5" stroke="#1a1a1a" stroke-width="0.9" stroke-dasharray="14 3 2 3"/><rect x="187.5" y="32.5" width="56" height="28" fill="none" stroke="#1a1a1a" stroke-width="1.1"/><line x1="215.5" y1="17.5" x2="215.5" y2="60.5" stroke="#1a1a1a" stroke-width="1.1" /><rect x="192.5" y="23.5" width="17" height="9" fill="none" stroke="#1a1a1a" stroke-width="1.1"/><rect x="221.5" y="23.5" width="17" height="9" fill="none" stroke="#1a1a1a" stroke-width="1.1"/><polyline points="209.5,24.5 213.5,24.5 215.5,29.5 217.5,24.5 221.5,24.5" fill="none" stroke="#1a1a1a" stroke-width="0.9" stroke-linejoin="miter"/><rect x="196.5" y="42.5" width="11" height="11" fill="none" stroke="#1a1a1a" stroke-width="1.1"/><line x1="192.5" y1="47.5" x2="210.5" y2="47.5" stroke="#1a1a1a" stroke-width="0.8" /><line x1="201.5" y1="39.5" x2="201.5" y2="56.5" stroke="#1a1a1a" stroke-width="0.8" /><circle cx="201.9" cy="47.6" r="1.9" fill="none" stroke="#111" stroke-width="0.9"/><rect x="223.5" y="42.5" width="11" height="11" fill="none" stroke="#1a1a1a" stroke-width="1.1"/><line x1="219.5" y1="47.5" x2="237.5" y2="47.5" stroke="#1a1a1a" stroke-width="0.8" /><line x1="228.5" y1="39.5" x2="228.5" y2="56.5" stroke="#1a1a1a" stroke-width="0.8" /><circle cx="228.8" cy="47.6" r="1.9" fill="none" stroke="#111" stroke-width="0.9"/><line x1="477.6" y1="60.5" x2="476.5" y2="443.5" stroke="#1a1a1a" stroke-width="1.0"/><polygon points="477.6,60.8 479.9,75.8 475.3,75.8" fill="#111"/><polygon points="476.5,443.2 474.2,428.2 478.8,428.2" fill="#111"/><line x1="340.5" y1="121.5" x2="346.5" y2="121.5" stroke="#1a1a1a" stroke-width="1.0" /><line x1="361.5" y1="121.5" x2="437.5" y2="121.5" stroke="#1a1a1a" stroke-width="1.0" /><line x1="340.5" y1="384.5" x2="437.5" y2="384.5" stroke="#1a1a1a" stroke-width="1.0" /><line x1="432.5" y1="121.5" x2="432.5" y2="384.5" stroke="#1a1a1a" stroke-width="1.0" /><polygon points="432.9,121.2 435.1,130.2 430.7,130.2" fill="#111"/><polygon points="432.9,383.8 430.7,374.8 435.1,374.8" fill="#111"/><line x1="346.5" y1="161.5" x2="400.5" y2="161.5" stroke="#1a1a1a" stroke-width="1.0" /><line x1="346.5" y1="342.5" x2="400.5" y2="342.5" stroke="#1a1a1a" stroke-width="1.0" /><line x1="396.5" y1="161.5" x2="396.5" y2="342.5" stroke="#1a1a1a" stroke-width="1.0" /><polygon points="396.6,161.7 398.8,170.7 394.4,170.7" fill="#111"/><polygon points="396.6,342 394.4,333 398.8,333" fill="#111"/><line x1="138.5" y1="200.5" x2="174.5" y2="200.5" stroke="#1a1a1a" stroke-width="1.0" /><line x1="138.5" y1="303.5" x2="174.5" y2="303.5" stroke="#1a1a1a" stroke-width="1.0" /><line x1="141.5" y1="200.5" x2="141.5" y2="303.5" stroke="#1a1a1a" stroke-width="1.0" /><polygon points="141.9,200.5 144.1,209.5 139.7,209.5" fill="#111"/><polygon points="141.9,302.8 139.7,293.8 144.1,293.8" fill="#111"/><line x1="152.5" y1="241.5" x2="331.5" y2="241.5" stroke="#1a1a1a" stroke-width="1.0" /><polygon points="152.7,241.5 161.7,239.3 161.7,243.7" fill="#111"/><polygon points="331.8,241.5 322.8,243.7 322.8,239.3" fill="#111"/><line x1="360.5" y1="443.5" x2="360.5" y2="490.5" stroke="#1a1a1a" stroke-width="1.1" /><line x1="160.5" y1="486.5" x2="360.5" y2="486.5" stroke="#1a1a1a" stroke-width="1.1" /><line x1="345.5" y1="443.5" x2="345.5" y2="467.5" stroke="#1a1a1a" stroke-width="1.0" /><line x1="330.5" y1="464.5" x2="376.5" y2="464.5" stroke="#1a1a1a" stroke-width="1.0" /><polygon points="345,464.8 336,467 336,462.6" fill="#111"/><polygon points="360.6,464.8 369.6,462.6 369.6,467" fill="#111"/><polyline points="361.5,120.5 394.5,103.5 408.5,103.5" fill="none" stroke="#1a1a1a" stroke-width="1.0" stroke-linejoin="miter"/><polyline points="362.5,384.5 400.5,421.5 432.5,421.5" fill="none" stroke="#1a1a1a" stroke-width="1.0" stroke-linejoin="miter"/><line x1="144.5" y1="400.5" x2="194.5" y2="445.5" stroke="#1a1a1a" stroke-width="0.9" /><line x1="133.5" y1="411.5" x2="194.5" y2="468.5" stroke="#1a1a1a" stroke-width="0.9" /><line x1="123.5" y1="424.5" x2="158.5" y2="389.5" stroke="#1a1a1a" stroke-width="0.9" /><polygon points="133.6,413.9 129.43,421.04 126.46,418.07" fill="#111"/><polygon points="146.4,401.1 150.57,393.96 153.54,396.93" fill="#111"/><line x1="184.5" y1="478.5" x2="215.5" y2="446.5" stroke="#1a1a1a" stroke-width="0.9" /><polygon points="194.6,467.4 190.43,474.54 187.46,471.57" fill="#111"/><polygon points="205,456.6 209.17,449.46 212.14,452.43" fill="#111"/><polyline points="117.5,462.5 149.5,462.5 165.5,446.5" fill="none" stroke="#1a1a1a" stroke-width="0.9" stroke-linejoin="miter"/><polygon points="166.6,445.6 162.5,452.81 159.39,449.7" fill="#111"/><text x="401" y="96.6" font-family="Liberation Sans, sans-serif" font-size="17.5" font-weight="bold" font-style="italic" text-anchor="middle" fill="#111" letter-spacing="0">K</text><text transform="translate(417.6 419.9) rotate(0) skewX(0) scale(0.75 1)" x="0" y="0" font-family="Liberation Sans, sans-serif" font-size="17.5" font-weight="bold" font-style="italic" text-anchor="middle" fill="#1a1a1a">J</text><text x="240" y="236.8" font-family="Liberation Sans, sans-serif" font-size="17.5" font-weight="bold" font-style="italic" text-anchor="middle" fill="#111" letter-spacing="0">L1</text><text x="264.6" y="482.5" font-family="Liberation Sans, sans-serif" font-size="17.5" font-weight="bold" font-style="italic" text-anchor="middle" fill="#111" letter-spacing="0">L</text><text x="330" y="461.4" font-family="Liberation Sans, sans-serif" font-size="16.5" font-weight="bold" font-style="italic" text-anchor="middle" fill="#111" letter-spacing="0">L2</text><text x="125.7" y="255.7" font-family="Liberation Sans, sans-serif" font-size="17.5" font-weight="bold" font-style="italic" text-anchor="middle" fill="#111" transform="rotate(-90 125.7 255.7)" letter-spacing="0">D4</text><text x="391.2" y="249.7" font-family="Liberation Sans, sans-serif" font-size="17.5" font-weight="bold" font-style="italic" text-anchor="middle" fill="#111" transform="rotate(-90 391.2 249.7)" letter-spacing="0">D2H7</text><text x="427.1" y="251.2" font-family="Liberation Sans, sans-serif" font-size="18" font-weight="bold" font-style="italic" text-anchor="middle" fill="#111" transform="rotate(-90 427.1 251.2)" letter-spacing="0">D3</text><text x="473.4" y="251.6" font-family="Liberation Sans, sans-serif" font-size="18" font-weight="bold" font-style="italic" text-anchor="middle" fill="#111" transform="rotate(-90 473.4 251.6)" letter-spacing="0">D1</text><text x="141.2" y="401.4" font-family="Liberation Sans, sans-serif" font-size="18" font-weight="bold" font-style="normal" text-anchor="middle" fill="#111" transform="rotate(-45 141.2 401.4)" letter-spacing="0">45°</text><text x="202.2" y="459.6" font-family="Liberation Sans, sans-serif" font-size="17.5" font-weight="bold" font-style="normal" text-anchor="middle" fill="#111" transform="rotate(-45 202.2 459.6)" letter-spacing="0">S</text><path d="M681.14 236.4 A59.1 57.65 0 1 0 680.56 269.2 L701.5 269.2 L701.5 236.4 Z" fill="none" stroke="#1a1a1a" stroke-width="1.0"/><line x1="560.5" y1="249.5" x2="708.5" y2="249.5" stroke="#1a1a1a" stroke-width="0.9" stroke-dasharray="12 3 2 3"/><line x1="625.5" y1="186.5" x2="625.5" y2="321.5" stroke="#1a1a1a" stroke-width="0.9" stroke-dasharray="12 3 2 3"/><line x1="572.5" y1="278.5" x2="676.5" y2="224.5" stroke="#1a1a1a" stroke-width="0.9" /><polygon points="572.3,278.2 578.48,272.75 580.32,276.3" fill="#111"/><polygon points="676.4,224.3 670.22,229.75 668.38,226.2" fill="#111"/><line x1="701.5" y1="236.5" x2="742.5" y2="236.5" stroke="#1a1a1a" stroke-width="0.9" /><line x1="701.5" y1="269.5" x2="742.5" y2="269.5" stroke="#1a1a1a" stroke-width="0.9" /><line x1="737.5" y1="236.5" x2="737.5" y2="269.5" stroke="#1a1a1a" stroke-width="0.9" /><polygon points="737,236.6 739,244.6 735,244.6" fill="#111"/><polygon points="737,269 735,261 739,261" fill="#111"/><line x1="565.5" y1="252.5" x2="565.5" y2="345.5" stroke="#1a1a1a" stroke-width="0.9" /><line x1="701.5" y1="269.5" x2="701.5" y2="345.5" stroke="#1a1a1a" stroke-width="0.9" /><line x1="565.5" y1="340.5" x2="701.5" y2="340.5" stroke="#1a1a1a" stroke-width="0.9" /><polygon points="565.2,340.5 573.2,338.5 573.2,342.5" fill="#111"/><polygon points="701.3,340.5 693.3,342.5 693.3,338.5" fill="#111"/><text transform="translate(633.1 336) rotate(0) skewX(0) scale(0.62 1)" x="0" y="0" font-family="Liberation Sans, sans-serif" font-size="14.5" font-weight="normal" font-style="normal" text-anchor="middle" fill="#1a1a1a">h</text><text transform="translate(651.2 229.6) rotate(-30) skewX(14) scale(0.57 1)" x="0" y="0" font-family="Liberation Sans, sans-serif" font-size="15" font-weight="normal" font-style="normal" text-anchor="middle" fill="#1a1a1a">ΦH7</text><text transform="translate(729.2 251.9) rotate(-90) skewX(0) scale(0.5 1)" x="0" y="0" font-family="Liberation Sans, sans-serif" font-size="17" font-weight="normal" font-style="normal" text-anchor="middle" fill="#1a1a1a">eJS9</text><path d="M118.2 449.63 L122.59 449.63 M120.39 446.49 L120.39 458.41 M120.3 450.49 L118.39 455.74 M120.68 451.54 L122.4 453.83 M123.35 447.54 L130.6 447.54 M123.92 449.06 L130.12 449.06 L130.12 452.5 L123.92 452.5 L123.92 449.06 M123.92 450.78 L130.12 450.78 M126.02 446.2 L126.02 452.5 M128.12 446.2 L128.12 452.5 M124.69 453.83 L129.46 453.83 L129.46 458.22 L124.69 458.22 L124.69 453.83 M124.69 456.02 L129.46 456.02 M139.3 446.2 L139.3 447.73 M133.85 450.02 L133.85 448.11 L144.75 448.11 L144.75 450.02 M135.33 450.4 L143.27 450.4 M137.55 449.25 L137.55 451.73 M141.05 449.25 L141.05 451.73 M135.88 452.3 L142.72 452.3 L142.72 455.17 L135.88 455.17 L135.88 452.3 M139.3 452.3 L139.3 455.17 M138.1 455.36 L134.78 458.41 M140.5 454.02 L140.5 457.84 L145.12 457.84 L145.12 456.31" stroke="#111" stroke-width="1.65" fill="none" stroke-linecap="square" stroke-linejoin="miter"/><text x="149.4" y="458.9" font-family="Liberation Sans, sans-serif" font-size="14" font-weight="bold" font-style="normal" text-anchor="middle" fill="#111" letter-spacing="0">t</text></svg></body></html>
